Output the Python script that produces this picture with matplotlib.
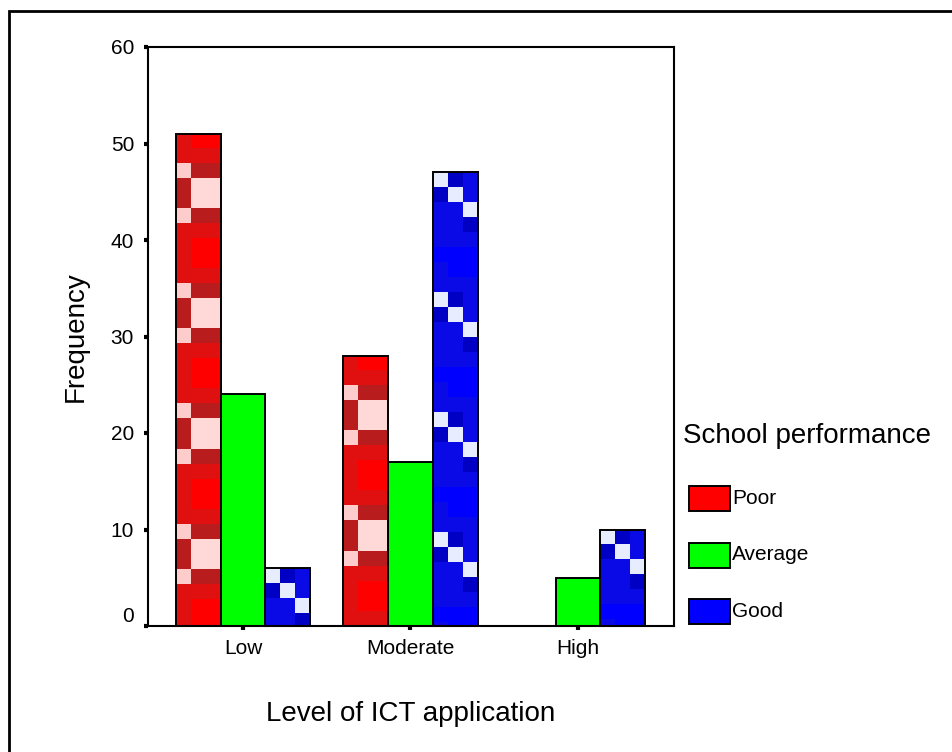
import numpy as np
import matplotlib
matplotlib.use('Agg')
import matplotlib.pyplot as plt
from matplotlib.patches import Rectangle
from matplotlib.colors import to_rgb

plt.rcParams['font.family'] = ['Liberation Sans', 'DejaVu Sans']

categories = ['Low', 'Moderate', 'High']
series = ['Poor', 'Average', 'Good']
poor = [51, 28, 0]
average = [24, 17, 5]
good = [6, 47, 10]
colors = ['#ff0000', '#00ff00', '#0000ff']

# pattern tiles (rows top->bottom, 3 columns) to mimic the SPSS bitmap fills
R0, R1, PK, DK, LP = '#ff0000', '#e11010', '#ffcccc', '#b81c1c', '#ffd8d8'
poor_tile = [[R1, R0, R0], [R1, R1, R1], [PK, DK, DK], [DK, LP, LP],
             [DK, LP, LP], [PK, DK, DK], [R1, R1, R1], [R1, R0, R0]]
B0, B1, B2, W = '#0000ff', '#0a0ae6', '#0000c4', '#e8ecff'
good_tile = [[W, B2, B1], [B2, W, B1], [B1, B1, W], [B1, B1, B2],
             [B1, B1, B1], [B0, B0, B0], [B1, B0, B0], [B1, B1, B1]]


def to_img(tile):
    return np.array([[to_rgb(c) for c in row] for row in tile])


def pattern_fill(ax, bar, tile, cell_h):
    top = bar.get_height()
    if top <= 0:
        return
    x0 = bar.get_x()
    x1 = x0 + bar.get_width()
    n = int(np.ceil(top / cell_h)) + 1
    img = np.tile(tile, (n // len(tile) + 1, 1, 1))[:n]
    im = ax.imshow(img, extent=[x0, x1, top - n * cell_h, top], origin='upper',
                   aspect='auto', interpolation='nearest', zorder=2.5)
    im.set_clip_path(bar)


fig = plt.figure(figsize=(9.53, 7.52), dpi=100)
ax = fig.add_axes([148 / 953, 126 / 752, 526 / 953, 579 / 752])

x = np.arange(len(categories))
w = 0.268
data = [poor, average, good]
tiles = [to_img(poor_tile), None, to_img(good_tile)]
cell_h = 15 * 60 / 579.0

for i, vals in enumerate(data):
    pos = x + (i - 1) * w
    bars = ax.bar(pos, vals, width=w, color=colors[i], edgecolor='none', zorder=2)
    if tiles[i] is not None:
        for b in bars:
            pattern_fill(ax, b, tiles[i], cell_h)
    for b, v in zip(bars, vals):
        if v > 0:
            ax.add_patch(Rectangle((b.get_x(), 0), w, v, fill=False,
                                   edgecolor='black', lw=1.4, zorder=3))

ax.set_xlim(-0.567, 2.573)
ax.set_ylim(0, 60)
ax.set_yticks(np.arange(0, 61, 10))
ax.set_xticks(x)
ax.set_xticklabels(categories)
ax.tick_params(direction='out', length=3, width=3, labelsize=15, color='black')
ax.tick_params(axis='y', pad=7)
ax.tick_params(axis='x', pad=6)
ax.get_yticklabels()[0].set_va('bottom')
for s in ax.spines.values():
    s.set_linewidth(1.5)
    s.set_color('black')

ax.set_ylabel('Frequency', fontsize=20, labelpad=16)
ax.set_xlabel('Level of ICT application', fontsize=20, labelpad=31)

# legend drawn by hand to match the layout
fig.text(683 / 953, 1 - 436 / 752, 'School performance', fontsize=20,
         ha='left', va='center')
for k, name in enumerate(series):
    yc = 498.5 + k * 56.5
    fig.add_artist(Rectangle((689 / 953, 1 - (yc + 12.5) / 752), 41 / 953, 25 / 752,
                             transform=fig.transFigure, facecolor=colors[k],
                             edgecolor='black', lw=1.4))
    fig.text(732 / 953, 1 - yc / 752, name, fontsize=15, ha='left', va='center')

# outer frame, cut off at the right and bottom
fig.add_artist(Rectangle((9 / 953, -0.1), 1.2, 1.1 - 11 / 752,
                         transform=fig.transFigure, fill=False,
                         edgecolor='black', lw=2))

fig.savefig('out.png', dpi=100)
